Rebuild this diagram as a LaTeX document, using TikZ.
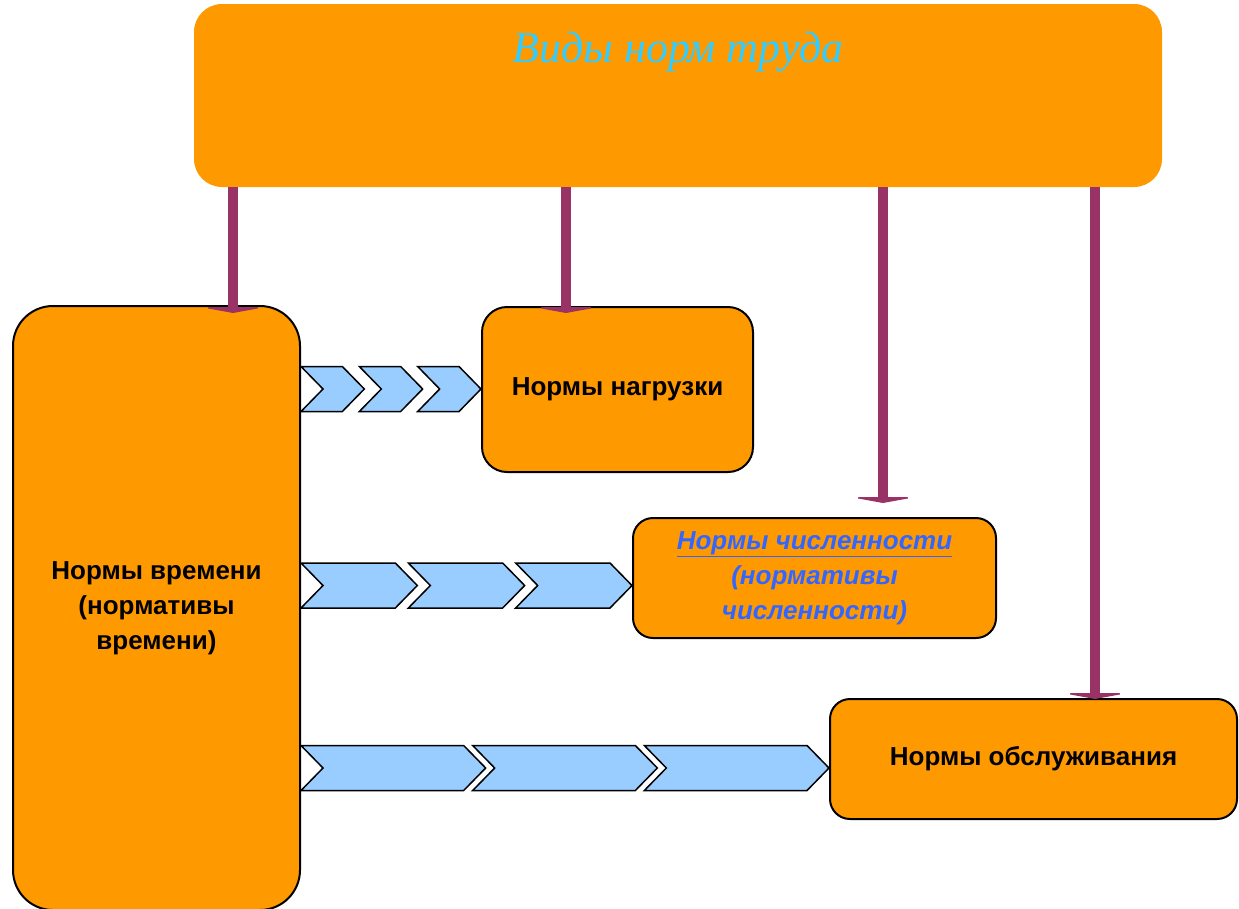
\documentclass[tikz,border=0pt]{standalone}
\usepackage{fontspec}
\setmainfont{Liberation Sans}
\newfontfamily\titlefont{Liberation Serif}
\usetikzlibrary{arrows.meta,calc}
\definecolor{cff9900}{RGB}{255,153,0}
\definecolor{c993366}{RGB}{153,51,102}
\definecolor{c99ccff}{RGB}{153,204,255}
\definecolor{c33ccff}{RGB}{51,204,255}
\definecolor{c3366ff}{RGB}{51,102,255}
\tikzset{
  normbox/.style={draw=black,fill=cff9900,line width=2pt,inner sep=0pt,align=center,
    font=\bfseries\fontsize{26}{35}\selectfont},
  normarrow/.style={draw=c993366,line width=10pt,-{Triangle[width=66pt,length=6pt]}},
  chevronpath/.style={draw=black,fill=c99ccff,line width=1.5pt,line join=miter},
}
\newcommand{\chevronrow}[4]{%
  \foreach \i in {0,1,2} {
    \path[chevronpath] let \p1=(#1.east |- 0,#3), \p2=(#2.west |- 0,#3),
      \n1={(\x2-\x1+44pt-2*#4)/3}, \n2={\x1+\i*(\n1-22pt+#4)} in
      (\n2,\y1+22.5pt) -- (\n2+\n1-22pt,\y1+22.5pt) -- (\n2+\n1,\y1)
      -- (\n2+\n1-22pt,\y1-22.5pt) -- (\n2,\y1-22.5pt) -- (\n2+22pt,\y1) -- cycle;
  }}

\begin{document}
\begin{tikzpicture}[x=1pt,y=-1pt]
  \useasboundingbox (0,0) rectangle (1239,908);

  \node[fill=cff9900,rounded corners=28pt,minimum width=968pt,minimum height=183pt] (vidy) at (678,95.5) {};
  \node[text=c33ccff,font=\titlefont\itshape\fontsize{44}{50}\selectfont] (title) at (678,52) {Виды норм труда};

  \node[normbox,rounded corners=40pt,minimum width=287pt,minimum height=604pt] (vrem) at (156.5,608) {Нормы времени\\(нормативы\\времени)};
  \node[normbox,rounded corners=25pt,minimum width=271pt,minimum height=165pt] (nagr) at (617.5,389.5) {Нормы нагрузки};
  \node[normbox,rounded corners=20pt,minimum width=363pt,minimum height=120pt,text=c3366ff,font=\bfseries\itshape\fontsize{26}{35}\selectfont] (chisl) at (814.5,578) {\underline{Нормы численности}\\(нормативы\\численности)};
  \node[normbox,rounded corners=20pt,minimum width=407pt,minimum height=120pt] (obsl) at (1033.5,759) {Нормы обслуживания};

  \chevronrow{vrem}{nagr}{389}{17pt}
  \chevronrow{vrem}{chisl}{585.5}{13pt}
  \chevronrow{vrem}{obsl}{768}{9pt}

  \coordinate (t1) at (233,313);
  \coordinate (t2) at (566,313);
  \coordinate (t3) at (883,503);
  \coordinate (t4) at (1095,699);
  \draw[normarrow] (vidy.south -| t1) -- (t1);
  \draw[normarrow] (vidy.south -| t2) -- (t2);
  \draw[normarrow] (vidy.south -| t3) -- (t3);
  \draw[normarrow] (vidy.south -| t4) -- (t4);
\end{tikzpicture}
\end{document}
